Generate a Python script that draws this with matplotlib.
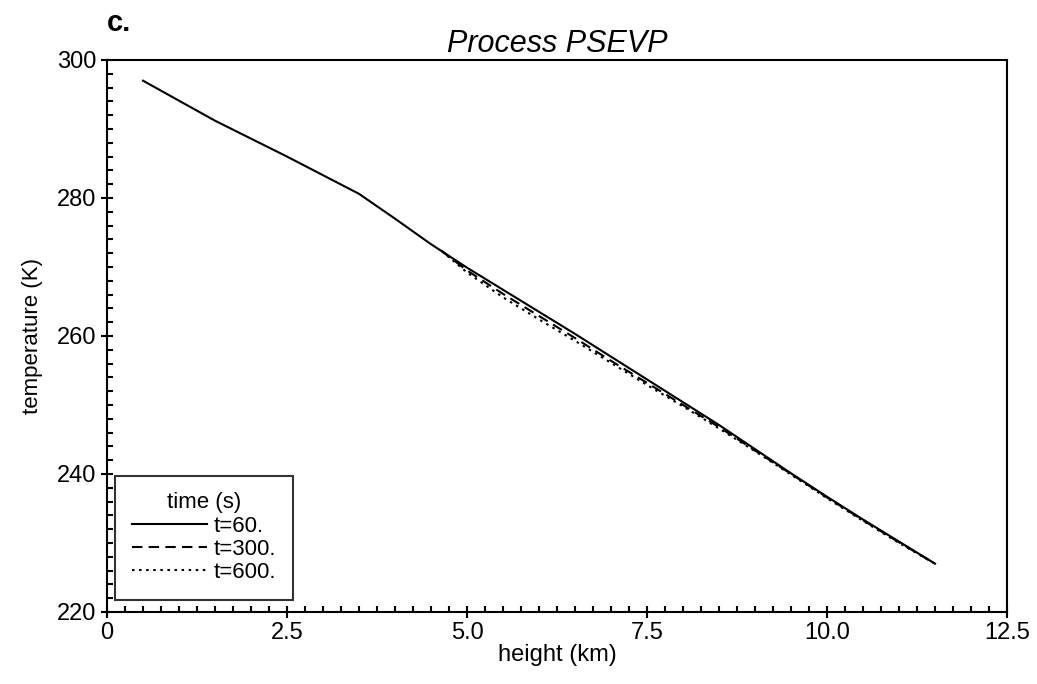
import numpy as np
import matplotlib
matplotlib.use("Agg")
import matplotlib.pyplot as plt
from matplotlib.ticker import MultipleLocator

# height (km) and temperature (K)
h60 = [0.5, 1.5, 2.5, 3.5, 4.0, 4.5, 5.0, 5.5, 6.0, 6.5, 7.0, 7.5, 8.0, 8.5, 9.0, 9.5, 10.0, 10.5, 11.0, 11.5]
T60 = [297.0, 291.2, 286.0, 280.6, 277.0, 273.3, 269.9, 266.7, 263.5, 260.3, 257.0, 253.7, 250.4, 247.1, 243.6, 240.1, 236.7, 233.4, 230.2, 227.0]

h300 = [4.65, 5.0, 5.5, 6.0, 6.5, 7.0, 7.5, 8.0, 8.5, 9.0, 9.5, 10.0, 10.5, 11.0, 11.5]
T300 = [272.3, 269.5, 266.1, 262.9, 259.7, 256.4, 253.2, 250.0, 246.8, 243.4, 240.0, 236.6, 233.3, 230.1, 227.0]

h600 = [4.65, 5.0, 5.5, 6.0, 6.5, 7.0, 7.5, 8.0, 8.5, 9.0, 9.5, 10.0, 10.5, 11.0, 11.5]
T600 = [272.3, 269.2, 265.6, 262.4, 259.3, 256.1, 252.9, 249.8, 246.6, 243.3, 239.9, 236.5, 233.2, 230.0, 227.0]

plt.rcParams['font.family'] = ['Liberation Sans', 'DejaVu Sans']

fig = plt.figure(figsize=(10.37, 6.84), dpi=100)
ax = fig.add_axes([0.1032, 0.1053, 0.8679, 0.807])

ax.plot(h60, T60, color='black', lw=1.5, ls='-', label='t=60.')
ax.plot(h300, T300, color='black', lw=1.5, ls=(0, (5, 3)), label='t=300.')
ax.plot(h600, T600, color='black', lw=1.5, ls=(0, (1.2, 2.2)), label='t=600.')

ax.set_xlim(0, 12.5)
ax.set_ylim(220, 300)
ax.xaxis.set_minor_locator(MultipleLocator(0.25))
ax.yaxis.set_major_locator(MultipleLocator(20))
ax.yaxis.set_minor_locator(MultipleLocator(2))
ax.set_xticks([0, 2.5, 5.0, 7.5, 10.0, 12.5])
ax.set_xticklabels(['0', '2.5', '5.0', '7.5', '10.0', '12.5'])

ax.tick_params(which='major', direction='inout', length=9, width=1.5, labelsize=17, pad=3)
ax.tick_params(which='minor', direction='in', length=4, width=1.5)

for s in ax.spines.values():
    s.set_linewidth(1.5)

ax.set_xlabel('height (km)', fontsize=17, labelpad=0)
ax.set_ylabel('temperature (K)', fontsize=16, labelpad=10)
ax.set_title('Process PSEVP', fontsize=22, style='italic', pad=6)
fig.text(0.103, 0.955, 'c.', fontsize=21, fontweight='bold')

leg = ax.legend(loc='lower left', title='time (s)', fontsize=16, title_fontsize=16,
                frameon=True, fancybox=False, edgecolor='black', handlelength=3.4,
                handletextpad=0.3, labelspacing=0.1, borderpad=0.75,
                borderaxespad=0, bbox_to_anchor=(0.009, 0.022))
leg.get_frame().set_linewidth(1.5)

fig.savefig('out.png', dpi=100)
